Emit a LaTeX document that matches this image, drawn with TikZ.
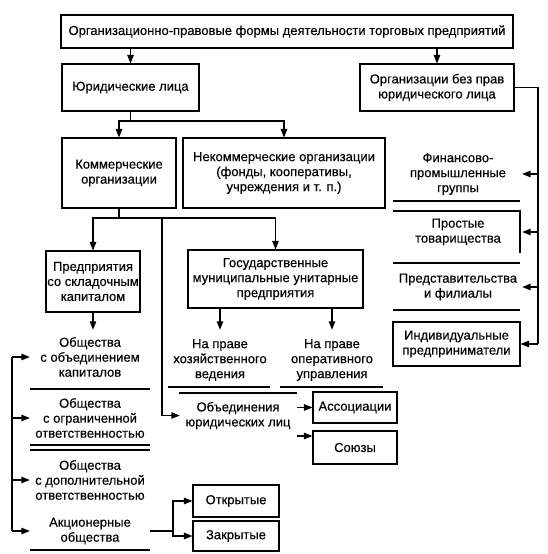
\documentclass[tikz,border=0pt]{standalone}
\usepackage{fontspec}
\setmainfont{Liberation Sans}
\newfontfamily\diagfont{Liberation Sans}[FakeBold=0.3]
\usetikzlibrary{arrows.meta,calc}
\begin{document}
\begin{tikzpicture}[x=1pt,y=-1pt,
  every node/.style={font=\diagfont\fontsize{13}{15}\selectfont, align=center, inner sep=0pt},
  box/.style={draw, line width=1.1pt},
  ln/.style={line width=1.1pt},
  arr/.style={line width=1.1pt, -{Triangle[length=8.5pt,width=6.5pt]}}]
\useasboundingbox (0,0) rectangle (548,554);
% boxes
\node[box, minimum width=452pt, minimum height=33pt] (top) at (287,31.5) {Организационно-правовые формы деятельности торговых предприятий};
\node[box, minimum width=137pt, minimum height=47pt] (jur) at (130.5,87.5) {Юридические лица};
\node[box, minimum width=154pt, minimum height=47pt] (org) at (437,87.5) {Организации без прав\\юридического лица};
\node[box, minimum width=114pt, minimum height=70pt] (com) at (119,173) {Коммерческие\\организации};
\node[box, minimum width=202pt, minimum height=70pt] (ncom) at (284,173) {Некоммерческие организации\\(фонды, кооперативы,\\учреждения и т. п.)};
\node[box, minimum width=94pt, minimum height=61pt] (pred) at (93,281.5) {Предприятия\\со складочным\\капиталом};
\node[box, minimum width=175pt, minimum height=58pt] (gos) at (275.5,279) {Государственные\\муниципальные унитарные\\предприятия};
% left column
\node[minimum width=120pt, minimum height=54pt] (ob1) at (90,357) {Общества\\с объединением\\капиталов};
\node[minimum width=120pt] (ob2) at (90,418) {Общества\\с ограниченной\\ответственностью};
\node[minimum width=120pt] (ob3) at (90,480) {Общества\\с дополнительной\\ответственностью};
\node[minimum width=120pt] (akc) at (90,531) {Акционерные\\общества};
% middle
\node[minimum width=100pt, minimum height=60pt] (hoz) at (220,360) {На праве\\хозяйственного\\ведения};
\node[minimum width=100pt, minimum height=60pt] (oper) at (332,360) {На праве\\оперативного\\управления};
\node[minimum width=116pt] (obj) at (238,415.5) {Объединения\\юридических лиц};
\node[box, minimum width=84pt, minimum height=31pt] (assoc) at (355,407.5) {Ассоциации};
\node[box, minimum width=84pt, minimum height=33pt] (soy) at (355,447.5) {Союзы};
\node[box, minimum width=86pt, minimum height=32pt] (open) at (236,501) {Открытые};
\node[box, minimum width=86pt, minimum height=30pt] (clos) at (236,536) {Закрытые};
% right column
\node[minimum width=128pt] (fin) at (458,174) {Финансово-\\промышленные\\группы};
\node[minimum width=128pt] (prost) at (458,232) {Простые\\товарищества};
\node[minimum width=128pt] (repr) at (458,287) {Представительства\\и филиалы};
\node[box, minimum width=127pt, minimum height=44pt] (ind) at (456.5,344) {Индивидуальные\\предприниматели};
% separators
\draw[ln] (30,389) -- (150,389);
\draw[ln] (30,445) -- (150,445);
\draw[ln] (30,450) -- (150,450);
\draw[ln] (30,550) -- (150,550);
\draw[ln] (168,387) -- (270,387);
\draw[ln] (280,387) -- (383,387);
\draw[ln] (179,393) -- (297,393);
\draw[ln] (393,201) -- (520,201);
\draw[ln] (393,211) -- (520,211) -- (520,253);
\draw[ln] (393,263) -- (520,263);
\draw[ln] (393,310) -- (520,310);
% connectors
\draw[arr] (top.south -| jur) -- (jur.north);
\draw[arr] (top.south -| org) -- (org.north);
\coordinate (s1) at (130.5,121);
\draw[arr] (jur.south) -- (s1) -| (com.north);
\draw[arr] (s1) -| (ncom.north);
\coordinate (s2) at (119,218);
\coordinate (s3) at (162,218);
\draw[arr] (com.south) -- (s2) -| (pred.north);
\draw[arr] (s2) -| (gos.north);
\draw[arr] (s3) |- (obj.west);
\draw[arr] (pred.south) -- (pred.south |- ob1.north);
\draw[arr] (gos.south -| hoz) -- (hoz.north);
\draw[arr] (gos.south -| oper) -- (oper.north);
\coordinate (lt) at (12,357);
\draw[ln] (lt) -- (lt |- akc);
\draw[arr] (lt) -- (ob1.west);
\draw[arr] (lt |- ob2) -- (ob2.west);
\draw[arr] (lt |- ob3) -- (ob3.west);
\draw[arr] (lt |- akc) -- (akc.west);
\coordinate (a1) at (297,407.5);
\coordinate (a2) at (297,436);
\draw[arr] (a1) -- (assoc.west);
\draw[arr] (a2) -- (a2 -| soy.west);
\coordinate (j) at (173,531);
\draw[ln] (akc.east) -- (j);
\draw[arr] (j) |- (open.west);
\draw[arr] (j) |- (clos.west);
\coordinate (rt) at (538,87.5);
\draw[ln] (org.east) -- (rt) -- (rt |- ind);
\draw[arr] (rt |- fin) -- (fin.east);
\draw[arr] (rt |- prost) -- (prost.east);
\draw[arr] (rt |- repr) -- (repr.east);
\draw[arr] (rt |- ind) -- (ind.east);
\end{tikzpicture}
\end{document}
